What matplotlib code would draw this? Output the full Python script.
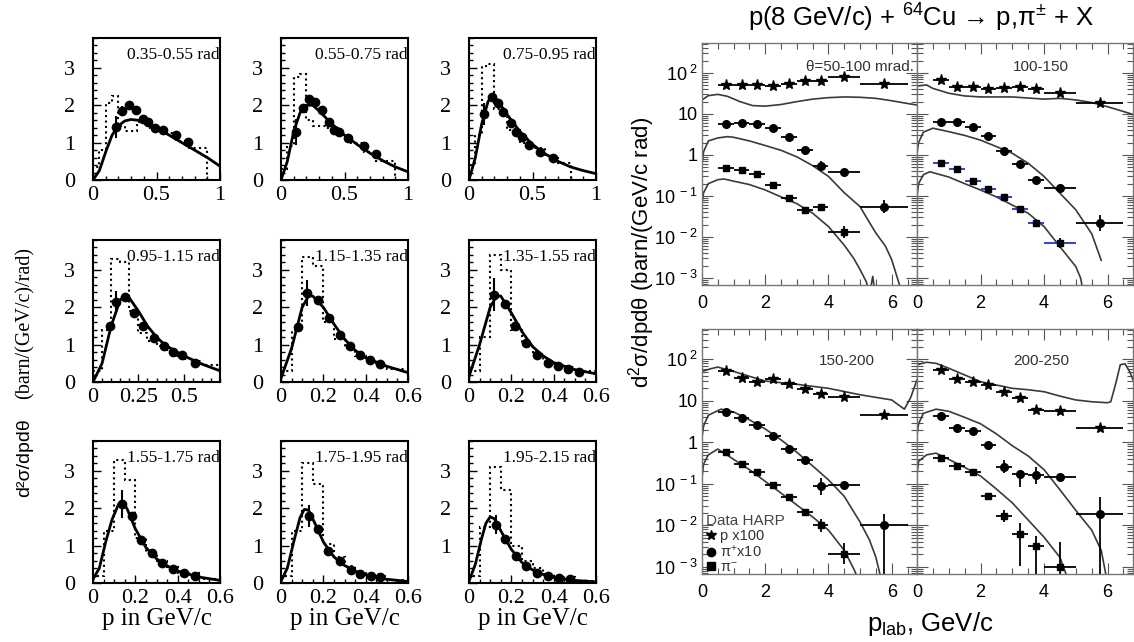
import numpy as np
import matplotlib
matplotlib.use('Agg')
import matplotlib.pyplot as plt
from matplotlib.ticker import MultipleLocator, FixedLocator, FixedFormatter, LogLocator, NullFormatter
from matplotlib.lines import Line2D

plt.rcParams.update({
    'mathtext.fontset': 'custom', 'mathtext.rm': 'Liberation Sans',
    'mathtext.it': 'Liberation Sans:italic', 'mathtext.bf': 'Liberation Sans:bold',
    'mathtext.default': 'regular',
})
SERIF = 'Liberation Serif'
SANS = 'Liberation Sans'

# ---------------- left block: 9 angular bins (linear) ----------------
angle_labels = ['0.35-0.55 rad', '0.55-0.75 rad', '0.75-0.95 rad',
                '0.95-1.15 rad', '1.15-1.35 rad', '1.35-1.55 rad',
                '1.55-1.75 rad', '1.75-1.95 rad', '1.95-2.15 rad']
left_xmax = [1.0, 1.0, 1.0, 0.7, 0.6, 0.6, 0.6, 0.6, 0.6]
left_xticks = [[0, 0.5, 1], [0, 0.5, 1], [0, 0.5, 1], [0, 0.25, 0.5],
               [0, 0.2, 0.4, 0.6], [0, 0.2, 0.4, 0.6], [0, 0.2, 0.4, 0.6],
               [0, 0.2, 0.4, 0.6], [0, 0.2, 0.4, 0.6]]
left_xticklabels = [['0', '0.5', '1'], ['0', '0.5', '1'], ['0', '0.5', '1'], ['0', '0.25', '0.5'],
                    ['0', '0.2', '0.4', '0.6'], ['0', '0.2', '0.4', '0.6'], ['0', '0.2', '0.4', '0.6'],
                    ['0', '0.2', '0.4', '0.6'], ['0', '0.2', '0.4', '0.6']]
left_yticks = [0, 1, 2, 3]

# data points (p, value, error), model curve, dotted histogram
a1_px = [0.18, 0.23, 0.28, 0.34, 0.39, 0.43, 0.49, 0.55, 0.65, 0.75]
a1_py = [1.42, 1.85, 2.00, 1.87, 1.64, 1.56, 1.40, 1.33, 1.20, 1.02]
a1_pe = [0.30, 0.12, 0.08, 0.07, 0.06, 0.06, 0.06, 0.06, 0.06, 0.06]
a1_cx = [0, 0.05, 0.1, 0.15, 0.2, 0.25, 0.3, 0.35, 0.4, 0.5, 0.6, 0.7, 0.8, 0.9, 1.0]
a1_cy = [0, 0.25, 0.75, 1.2, 1.45, 1.58, 1.62, 1.6, 1.55, 1.4, 1.2, 1.0, 0.8, 0.6, 0.37]
a1_he = [0, 0.05, 0.1, 0.15, 0.2, 0.25, 0.35, 0.45, 0.55, 0.65, 0.75, 0.9]
a1_hv = [0.35, 0.8, 2.05, 2.25, 1.45, 1.3, 1.55, 1.4, 1.25, 1.05, 0.85]

a2_px = [0.12, 0.17, 0.22, 0.27, 0.32, 0.38, 0.42, 0.46, 0.53, 0.65, 0.75]
a2_py = [1.28, 1.92, 2.17, 2.08, 1.88, 1.54, 1.34, 1.28, 1.12, 0.92, 0.70]
a2_pe = [0.35, 0.12, 0.08, 0.07, 0.07, 0.06, 0.06, 0.06, 0.05, 0.05, 0.05]
a2_cx = [0, 0.05, 0.1, 0.15, 0.2, 0.25, 0.3, 0.4, 0.5, 0.6, 0.7, 0.8, 0.9, 1.0]
a2_cy = [0, 0.5, 1.3, 1.8, 2.0, 2.0, 1.85, 1.5, 1.2, 0.95, 0.72, 0.52, 0.35, 0.22]
a2_he = [0, 0.05, 0.1, 0.15, 0.2, 0.25, 0.35, 0.45, 0.55, 0.65, 0.75, 0.9]
a2_hv = [0.3, 0.9, 2.75, 2.85, 1.6, 1.45, 1.4, 1.2, 1.0, 0.75, 0.5]

a3_px = [0.12, 0.18, 0.23, 0.27, 0.33, 0.37, 0.42, 0.47, 0.56, 0.66]
a3_py = [1.77, 2.23, 2.05, 1.81, 1.53, 1.28, 1.14, 0.95, 0.74, 0.58]
a3_pe = [0.30, 0.10, 0.08, 0.07, 0.06, 0.06, 0.05, 0.05, 0.05, 0.05]
a3_cx = [0, 0.05, 0.1, 0.15, 0.18, 0.22, 0.3, 0.4, 0.5, 0.6, 0.7, 0.8, 0.9, 1.0]
a3_cy = [0, 0.6, 1.5, 2.1, 2.25, 2.15, 1.75, 1.3, 0.95, 0.7, 0.5, 0.35, 0.25, 0.17]
a3_he = [0, 0.05, 0.1, 0.15, 0.2, 0.25, 0.3, 0.4, 0.5, 0.6, 0.7, 0.8]
a3_hv = [0.4, 1.2, 3.05, 3.1, 1.9, 1.7, 1.35, 1.0, 0.85, 0.65, 0.45]

a4_px = [0.095, 0.125, 0.176, 0.227, 0.277, 0.338, 0.389, 0.44, 0.49, 0.56]
a4_py = [1.5, 2.14, 2.27, 1.85, 1.5, 1.19, 0.97, 0.81, 0.71, 0.5]
a4_pe = [0.10, 0.30, 0.08, 0.07, 0.06, 0.05, 0.05, 0.05, 0.05, 0.05]
a4_cx = [0, 0.05, 0.1, 0.15, 0.18, 0.2, 0.25, 0.3, 0.35, 0.4, 0.5, 0.6, 0.7]
a4_cy = [0, 0.5, 1.5, 2.2, 2.3, 2.25, 1.9, 1.5, 1.2, 0.98, 0.7, 0.48, 0.3]
a4_he = [0, 0.05, 0.1, 0.15, 0.2, 0.25, 0.3, 0.35, 0.4, 0.45, 0.5, 0.55, 0.6, 0.7]
a4_hv = [0.3, 1.4, 3.3, 3.2, 1.9, 1.3, 1.1, 0.95, 0.85, 0.7, 0.62, 0.55, 0.45]

a5_px = [0.08, 0.124, 0.175, 0.226, 0.277, 0.328, 0.374, 0.42, 0.47]
a5_py = [1.48, 2.38, 2.2, 1.7, 1.26, 0.95, 0.73, 0.58, 0.48]
a5_pe = [0.10, 0.35, 0.08, 0.07, 0.06, 0.05, 0.05, 0.04, 0.04]
a5_cx = [0, 0.05, 0.1, 0.13, 0.15, 0.2, 0.25, 0.3, 0.35, 0.4, 0.5, 0.6]
a5_cy = [0.1, 0.9, 2.0, 2.3, 2.3, 2.0, 1.55, 1.15, 0.85, 0.65, 0.42, 0.25]
a5_he = [0, 0.05, 0.1, 0.15, 0.2, 0.25, 0.3, 0.35, 0.4, 0.45, 0.5, 0.6]
a5_hv = [0.3, 1.4, 3.35, 3.1, 1.6, 1.15, 0.9, 0.7, 0.55, 0.45, 0.35]

a6_px = [0.12, 0.17, 0.216, 0.267, 0.32, 0.374, 0.42, 0.47, 0.52]
a6_py = [2.34, 2.1, 1.5, 1.05, 0.73, 0.52, 0.42, 0.35, 0.28]
a6_pe = [0.45, 0.08, 0.07, 0.06, 0.05, 0.04, 0.04, 0.04, 0.04]
a6_cx = [0, 0.05, 0.1, 0.13, 0.15, 0.2, 0.25, 0.3, 0.35, 0.4, 0.5, 0.6]
a6_cy = [0.15, 1.0, 2.0, 2.3, 2.3, 1.85, 1.35, 0.95, 0.7, 0.52, 0.33, 0.22]
a6_he = [0, 0.05, 0.1, 0.15, 0.2, 0.25, 0.3, 0.35, 0.4, 0.5, 0.6]
a6_hv = [0.3, 1.2, 3.4, 3.0, 1.4, 1.0, 0.75, 0.55, 0.4, 0.3]

a7_px = [0.136, 0.186, 0.228, 0.28, 0.327, 0.378, 0.43, 0.48]
a7_py = [2.12, 1.8, 1.16, 0.8, 0.54, 0.38, 0.27, 0.2]
a7_pe = [0.38, 0.08, 0.07, 0.06, 0.05, 0.04, 0.04, 0.04]
a7_cx = [0, 0.03, 0.06, 0.09, 0.12, 0.135, 0.16, 0.2, 0.25, 0.3, 0.35, 0.4, 0.5, 0.6]
a7_cy = [0.1, 0.4, 1.1, 1.7, 2.1, 2.17, 2.0, 1.45, 0.95, 0.65, 0.46, 0.32, 0.16, 0.07]
a7_he = [0, 0.05, 0.1, 0.15, 0.2, 0.25, 0.3, 0.35, 0.4, 0.5, 0.6]
a7_hv = [0.2, 1.4, 3.3, 2.75, 1.2, 0.8, 0.6, 0.42, 0.28, 0.12]

a8_px = [0.13, 0.175, 0.22, 0.28, 0.33, 0.375, 0.425, 0.47]
a8_py = [1.8, 1.45, 0.85, 0.58, 0.36, 0.25, 0.2, 0.15]
a8_pe = [0.30, 0.07, 0.06, 0.05, 0.04, 0.04, 0.04, 0.04]
a8_cx = [0, 0.03, 0.06, 0.09, 0.11, 0.13, 0.16, 0.2, 0.25, 0.3, 0.35, 0.4, 0.5, 0.6]
a8_cy = [0.05, 0.4, 1.1, 1.75, 1.97, 1.95, 1.6, 1.1, 0.7, 0.47, 0.32, 0.22, 0.1, 0.04]
a8_he = [0, 0.05, 0.1, 0.15, 0.2, 0.25, 0.3, 0.35, 0.4, 0.5, 0.6]
a8_hv = [0.2, 1.4, 3.2, 2.65, 1.05, 0.7, 0.45, 0.3, 0.2, 0.08]

a9_px = [0.128, 0.17, 0.22, 0.27, 0.32, 0.375, 0.425, 0.475]
a9_py = [1.56, 1.18, 0.71, 0.45, 0.27, 0.18, 0.13, 0.1]
a9_pe = [0.25, 0.07, 0.06, 0.05, 0.04, 0.04, 0.03, 0.03]
a9_cx = [0, 0.03, 0.06, 0.08, 0.1, 0.12, 0.15, 0.2, 0.25, 0.3, 0.35, 0.4, 0.5, 0.6]
a9_cy = [0.05, 0.5, 1.2, 1.6, 1.77, 1.72, 1.4, 0.9, 0.55, 0.35, 0.23, 0.15, 0.07, 0.03]
a9_he = [0, 0.05, 0.1, 0.15, 0.2, 0.25, 0.3, 0.35, 0.4, 0.5, 0.6]
a9_hv = [0.2, 1.5, 3.1, 2.5, 1.0, 0.6, 0.4, 0.25, 0.15, 0.06]

left_sets = [
    (a1_px, a1_py, a1_pe, a1_cx, a1_cy, a1_he, a1_hv),
    (a2_px, a2_py, a2_pe, a2_cx, a2_cy, a2_he, a2_hv),
    (a3_px, a3_py, a3_pe, a3_cx, a3_cy, a3_he, a3_hv),
    (a4_px, a4_py, a4_pe, a4_cx, a4_cy, a4_he, a4_hv),
    (a5_px, a5_py, a5_pe, a5_cx, a5_cy, a5_he, a5_hv),
    (a6_px, a6_py, a6_pe, a6_cx, a6_cy, a6_he, a6_hv),
    (a7_px, a7_py, a7_pe, a7_cx, a7_cy, a7_he, a7_hv),
    (a8_px, a8_py, a8_pe, a8_cx, a8_cy, a8_he, a8_hv),
    (a9_px, a9_py, a9_pe, a9_cx, a9_cy, a9_he, a9_hv),
]

# ---------------- right block: HARP p+Cu (log) ----------------
theta_labels = ['θ=50-100 mrad.', '100-150', '150-200', '200-250']
rp_x = [0.75, 1.25, 1.75, 2.25, 2.75, 3.25, 3.75, 4.5, 5.75]
rp_xe = [0.25, 0.25, 0.25, 0.25, 0.25, 0.25, 0.25, 0.5, 0.75]
ytick_vals = [1e-3, 1e-2, 1e-1, 1, 10, 100]
ytick_text = ['$10^{\\ -3}$', '$10^{\\ -2}$', '$10^{\\ -1}$', '1', '10', '$10^{\\ 2}$']

# 50-100 mrad
tl_p = [51, 51, 51, 48, 54, 63, 63, 79, 53]
tl_p_el = [0.03] * 9
tl_p_eh = [0.03] * 9
tl_pip = [5.6, 5.9, 5.6, 4.6, 2.7, 1.3, 0.55, 0.38, 0.055]
tl_pip_el = [0.03, 0.03, 0.03, 0.03, 0.04, 0.05, 0.12, 0.05, 0.15]
tl_pip_eh = [0.03, 0.03, 0.03, 0.03, 0.04, 0.05, 0.12, 0.05, 0.15]
tl_pim = [0.48, 0.42, 0.35, 0.19, 0.088, 0.045, 0.055, 0.0135]
tl_pim_el = [0.03, 0.03, 0.03, 0.04, 0.06, 0.06, 0.06, 0.15]
tl_pim_eh = [0.03, 0.03, 0.03, 0.04, 0.06, 0.06, 0.06, 0.15]
tl_mp_x = [0, 0.2, 0.5, 0.8, 1.2, 1.6, 2.0, 2.5, 3.0, 3.5, 4.0, 4.5, 5.0, 5.5, 6.0, 6.5, 6.8]
tl_mp_y = [22, 28, 30, 27, 20, 16, 15.5, 17, 20, 23, 25, 26, 25.5, 24, 21, 18, 16.5]
tl_mpip_x = [0, 0.05, 0.2, 0.5, 0.8, 1.0, 1.5, 2.0, 2.5, 3.0, 3.5, 4.0, 4.5, 5.0, 5.2, 5.5, 5.8, 6.0, 6.3]
tl_mpip_y = [0.6, 1.2, 2.2, 2.6, 2.8, 2.7, 2.2, 1.7, 1.3, 0.9, 0.55, 0.3, 0.12, 0.055, 0.03, 0.0125, 0.006, 0.0028, 0.0005]
tl_mpim_x = [0, 0.05, 0.2, 0.5, 0.7, 1.0, 1.5, 2.0, 2.5, 3.0, 3.5, 4.0, 4.5, 4.8, 5.0, 5.2, 5.3, 5.4, 5.5]
tl_mpim_y = [0.068, 0.12, 0.2, 0.25, 0.26, 0.23, 0.19, 0.14, 0.095, 0.065, 0.038, 0.018, 0.0063, 0.003, 0.0016, 0.0008, 0.0004, 0.0011, 0.0003]

# 100-150 mrad
tr_p = [68, 45, 45, 40, 42, 46.6, 40, 33, 19]
tr_p_el = [0.03] * 9
tr_p_eh = [0.03] * 9
tr_pip = [6.2, 6.2, 4.9, 2.9, 1.26, 0.6, 0.25, 0.155, 0.022]
tr_pip_el = [0.03, 0.03, 0.03, 0.03, 0.04, 0.05, 0.07, 0.06, 0.2]
tr_pip_eh = [0.03, 0.03, 0.03, 0.03, 0.04, 0.05, 0.07, 0.06, 0.2]
tr_pim = [0.63, 0.45, 0.23, 0.148, 0.093, 0.048, 0.022, 0.007]
tr_pim_el = [0.04, 0.04, 0.04, 0.05, 0.05, 0.06, 0.1, 0.12]
tr_pim_eh = [0.04, 0.04, 0.04, 0.05, 0.05, 0.06, 0.1, 0.12]
tr_mp_x = [0, 0.3, 0.5, 1.0, 1.5, 2.0, 3.0, 4.0, 4.5, 5.0, 5.5, 6.0, 6.5, 6.8]
tr_mp_y = [48, 51, 42, 32, 27.5, 26, 26, 23, 24, 22, 19, 15, 11.5, 9.7]
tr_mpip_x = [0, 0.05, 0.2, 0.5, 1.0, 1.5, 2.0, 2.5, 3.0, 3.5, 4.0, 4.5, 5.0, 5.5, 5.8]
tr_mpip_y = [1.1, 2.0, 3.6, 4.5, 3.7, 3.0, 2.3, 1.6, 1.1, 0.63, 0.3, 0.117, 0.046, 0.012, 0.0027]
tr_mpim_x = [0, 0.05, 0.2, 0.4, 1.0, 1.5, 2.0, 2.5, 3.0, 3.5, 4.0, 4.5, 5.0, 5.15, 5.25]
tr_mpim_y = [0.095, 0.2, 0.33, 0.39, 0.29, 0.2, 0.14, 0.095, 0.06, 0.038, 0.018, 0.0058, 0.0019, 0.001, 0.0004]

# 150-200 mrad
bl_p = [53, 35, 29, 34, 25, 19, 14.5, 12.5, 4.6]
bl_p_el = [0.04] * 9
bl_p_eh = [0.04] * 9
bl_pip = [5.4, 3.9, 2.6, 1.45, 0.7, 0.37, 0.087, 0.095, 0.01]
bl_pip_el = [0.03, 0.03, 0.03, 0.03, 0.04, 0.05, 0.2, 0.1, 2.0]
bl_pip_eh = [0.03, 0.03, 0.03, 0.03, 0.04, 0.05, 0.2, 0.1, 0.28]
bl_pim = [0.58, 0.3, 0.19, 0.095, 0.048, 0.021, 0.01, 0.0021]
bl_pim_el = [0.04, 0.04, 0.04, 0.04, 0.05, 0.08, 0.15, 0.25]
bl_pim_eh = [0.04, 0.04, 0.04, 0.04, 0.05, 0.08, 0.15, 0.25]
bl_mp_x = [0, 0.3, 0.5, 1.0, 1.5, 2.0, 3.0, 4.0, 5.0, 6.0, 6.4, 6.6, 6.8]
bl_mp_y = [51, 60, 65, 51, 39, 30, 25, 20, 14, 10.5, 6.3, 12, 32]
bl_mpip_x = [0, 0.05, 0.2, 0.6, 1.0, 1.5, 2.0, 2.5, 3.0, 3.5, 4.0, 4.5, 5.0, 5.3, 5.5, 5.7]
bl_mpip_y = [1.3, 2.5, 4.5, 6.3, 5.4, 3.5, 2.1, 1.15, 0.58, 0.27, 0.125, 0.05, 0.012, 0.0044, 0.0017, 0.0004]
bl_mpim_x = [0, 0.05, 0.2, 0.5, 1.0, 1.5, 2.0, 2.5, 3.0, 3.5, 4.0, 4.5, 4.8, 5.0]
bl_mpim_y = [0.14, 0.3, 0.5, 0.69, 0.39, 0.22, 0.115, 0.06, 0.031, 0.016, 0.0077, 0.0025, 0.0009, 0.0004]

# 200-250 mrad
br_p = [54, 34, 29, 24, 16.5, 11.8, 5.9, 5.8, 2.2]
br_p_el = [0.04] * 9
br_p_eh = [0.04] * 9
br_pip = [4.2, 2.2, 1.9, 0.85, 0.26, 0.17, 0.16, 0.147, 0.019]
br_pip_el = [0.04, 0.04, 0.04, 0.05, 0.15, 0.3, 0.2, 0.1, 2.0]
br_pip_eh = [0.04, 0.04, 0.04, 0.05, 0.15, 0.1, 0.2, 0.1, 0.4]
br_pim = [0.41, 0.27, 0.19, 0.05, 0.017, 0.0063, 0.0032, 0.001]
br_pim_el = [0.04, 0.04, 0.04, 0.07, 0.15, 0.77, 2.0, 2.0]
br_pim_eh = [0.04, 0.04, 0.04, 0.07, 0.15, 0.25, 0.23, 0.6]
br_mp_x = [0, 0.3, 0.6, 1.0, 1.5, 2.0, 2.5, 3.0, 3.5, 4.0, 4.5, 5.0, 5.5, 6.0, 6.1, 6.25, 6.4, 6.55, 6.7, 6.8]
br_mp_y = [74, 85, 80, 61, 42, 29, 24, 20, 18.5, 16.6, 13, 10.5, 9.5, 9.0, 9.5, 25, 74, 78, 50, 32]
br_mpip_x = [0, 0.05, 0.2, 0.6, 1.0, 1.5, 2.0, 2.5, 3.0, 3.5, 4.0, 4.5, 5.0, 5.5, 5.8, 6.0]
br_mpip_y = [1.45, 2.8, 5.0, 6.3, 5.6, 4.0, 2.8, 1.6, 0.83, 0.47, 0.22, 0.072, 0.023, 0.0077, 0.0025, 0.0004]
br_mpim_x = [0, 0.05, 0.3, 0.6, 1.0, 1.5, 2.0, 2.5, 3.0, 3.5, 4.0, 4.5, 4.8]
br_mpim_y = [0.17, 0.35, 0.5, 0.55, 0.39, 0.25, 0.155, 0.075, 0.035, 0.0135, 0.0052, 0.0017, 0.0004]

right_sets = [
    (tl_p, tl_p_el, tl_p_eh, tl_pip, tl_pip_el, tl_pip_eh, tl_pim, tl_pim_el, tl_pim_eh,
     tl_mp_x, tl_mp_y, tl_mpip_x, tl_mpip_y, tl_mpim_x, tl_mpim_y),
    (tr_p, tr_p_el, tr_p_eh, tr_pip, tr_pip_el, tr_pip_eh, tr_pim, tr_pim_el, tr_pim_eh,
     tr_mp_x, tr_mp_y, tr_mpip_x, tr_mpip_y, tr_mpim_x, tr_mpim_y),
    (bl_p, bl_p_el, bl_p_eh, bl_pip, bl_pip_el, bl_pip_eh, bl_pim, bl_pim_el, bl_pim_eh,
     bl_mp_x, bl_mp_y, bl_mpip_x, bl_mpip_y, bl_mpim_x, bl_mpim_y),
    (br_p, br_p_el, br_p_eh, br_pip, br_pip_el, br_pip_eh, br_pim, br_pim_el, br_pim_eh,
     br_mp_x, br_mp_y, br_mpip_x, br_mpip_y, br_mpim_x, br_mpim_y),
]

# ---------------- figure ----------------
W, H = 1134, 642
fig = plt.figure(figsize=(W / 100, H / 100), dpi=100)


def box(x0, y0, w, h):
    return [x0 / W, 1 - (y0 + h) / H, w / W, h / H]


# left grid
col_x = [93, 281, 469]
row_y = [38, 240, 441]
for i in range(9):
    r, c = divmod(i, 3)
    ax = fig.add_axes(box(col_x[c], row_y[r], 127, 142))
    px, py, pe, cx, cy, he, hv = left_sets[i]
    ax.stairs(hv, he, baseline=0, color='k', lw=1.5, ls=(0, (1, 1.6)))
    ax.plot(cx, cy, color='k', lw=2.0)
    ax.errorbar(px, py, yerr=pe, xerr=0.012, fmt='o', color='k', ms=6, lw=1.5, capsize=0)
    ax.set_xlim(0, left_xmax[i])
    ax.set_ylim(0, 3.8)
    ax.set_xticks(left_xticks[i])
    ax.set_xticklabels(left_xticklabels[i], fontfamily=SERIF, fontsize=16)
    ax.set_yticks(left_yticks)
    ylabs = ['0', '1', '2', '3'] if i != 8 else ['', '1', '2', '3']
    ax.set_yticklabels(ylabs, fontfamily=SERIF, fontsize=16)
    ax.xaxis.set_minor_locator(MultipleLocator(0.1 if left_xmax[i] == 1.0 else 0.05))
    ax.yaxis.set_minor_locator(MultipleLocator(0.2))
    ax.tick_params(which='both', direction='in', top=False, right=False, width=1)
    ax.tick_params(which='major', length=6)
    ax.tick_params(which='minor', length=3)
    ax.tick_params(axis='y', pad=13)
    ax.tick_params(axis='x', pad=4)
    for s in ax.spines.values():
        s.set_linewidth(1.5)
    ax.text(1.0, 0.88, angle_labels[i], transform=ax.transAxes, ha='right', va='center',
            fontfamily=SERIF, fontsize=12.5)
    if r == 2:
        ax.set_xlabel('p in GeV/c', fontfamily=SERIF, fontsize=18, labelpad=0)

fig.text(25 / W, 1 - 323 / H, '(barn/(GeV/c)/rad)', rotation=90, ha='center', va='center',
         fontfamily=SERIF, fontsize=14.5)
fig.text(25 / W, 1 - 458 / H, 'd²σ/dpdθ', rotation=90, ha='center', va='center',
         fontfamily=SANS, fontsize=14)

# right grid
rcol_x = [702, 917]
rcol_w = [215, 216]
rrow_y = [43, 329]
rrow_h = [242, 245]
label_pos = [(6.7, 140, 'right'), (3.9, 140, 'center'), (4.57, 92, 'center'), (3.9, 92, 'center')]
gray = '#555555'
for k in range(4):
    r, c = divmod(k, 2)
    ax = fig.add_axes(box(rcol_x[c], rrow_y[r], rcol_w[c], rrow_h[r]))
    (pv, pel, peh, piv, piel, pieh, mv, mel, meh,
     mpx, mpy, mpix, mpiy, mmx, mmy) = right_sets[k]
    ax.set_yscale('log')
    ax.plot(mpx, mpy, color='#3a3a3a', lw=1.2)
    ax.plot(mpix, mpiy, color='#3a3a3a', lw=1.2)
    ax.plot(mmx, mmy, color='#3a3a3a', lw=1.2)
    for vals, el, eh, mk, ms in [(pv, pel, peh, '*', 8), (piv, piel, pieh, 'o', 5.5), (mv, mel, meh, 's', 5)]:
        y = np.array(vals, dtype=float)
        n = len(y)
        lo = y - y * 10 ** (-np.array(el))
        hi = y * 10 ** np.array(eh) - y
        xs = np.array(rp_x[:n])
        xe = np.array(rp_xe[:n])
        if k == 1 and mk == 's':
            ax.errorbar(xs, y, xerr=xe, fmt='none', ecolor='#2030e0', lw=1.3, capsize=0)
            ax.errorbar(xs, y, yerr=[lo, hi], fmt=mk, color='k', ms=ms, lw=1.3, capsize=0)
        else:
            ax.errorbar(xs, y, xerr=xe, yerr=[lo, hi], fmt=mk, color='k', ms=ms, lw=1.3, capsize=0)
    ax.set_xlim(0, 6.8)
    ax.set_ylim(10 ** -3.17, 10 ** 2.73)
    ax.set_xticks([0, 2, 4, 6])
    ax.set_xticklabels(['0', '2', '4', '6'], fontfamily=SANS, fontsize=13)
    ax.xaxis.set_minor_locator(MultipleLocator(0.5))
    ax.yaxis.set_major_locator(FixedLocator(ytick_vals))
    ax.yaxis.set_minor_locator(LogLocator(base=10, subs=np.arange(2, 10)))
    ax.yaxis.set_minor_formatter(NullFormatter())
    if c == 0:
        ax.yaxis.set_major_formatter(FixedFormatter(ytick_text))
        for t in ax.get_yticklabels():
            t.set_fontfamily(SANS)
            t.set_fontsize(13)
    else:
        ax.yaxis.set_major_formatter(NullFormatter())
    ax.tick_params(which='both', direction='in', top=True, right=True, color=gray, width=0.8)
    ax.tick_params(which='major', length=8)
    ax.tick_params(which='minor', length=4)
    ax.tick_params(axis='y', pad=3)
    ax.tick_params(axis='x', pad=7)
    for s in ax.spines.values():
        s.set_linewidth(1.0)
        s.set_color('#777777')
    lx, ly, ha = label_pos[k]
    ax.text(lx, ly, theta_labels[k], ha=ha, va='center', fontfamily=SANS, fontsize=11, color='#333333')
    if k == 2:
        handles = [Line2D([], [], marker='*', ls='', color='k', ms=7),
                   Line2D([], [], marker='o', ls='', color='k', ms=6),
                   Line2D([], [], marker='s', ls='', color='k', ms=5.5)]
        leg = ax.legend(handles, ['p x100', 'π$^{+}$x10', 'π$^{-}$'], title='Data HARP',
                        loc='lower left', bbox_to_anchor=(0.0, -0.02), frameon=False,
                        prop={'family': SANS, 'size': 10.5}, title_fontsize=11,
                        handlelength=0.6, handletextpad=0.3, labelspacing=0.05,
                        borderpad=0.2, borderaxespad=0.1, labelcolor='#333333', alignment='left')
        leg.get_title().set_color('#444444')
        leg.get_title().set_fontfamily(SANS)

fig.text(921 / W, 1 - 18 / H, 'p(8 GeV/c) + $^{64}$Cu → p,π$^{\\pm}$ + X', ha='center', va='center',
         fontfamily=SANS, fontsize=18.5)
fig.text(642 / W, 1 - 252 / H, 'd$^{2}$σ/dpdθ (barn/(GeV/c rad)', rotation=90, ha='center', va='center',
         fontfamily=SANS, fontsize=16)
fig.text(930 / W, 1 - 624 / H, 'p$_{lab}$, GeV/c', ha='center', va='center', fontfamily=SANS, fontsize=18.5)

fig.savefig('out.png', dpi=100)
